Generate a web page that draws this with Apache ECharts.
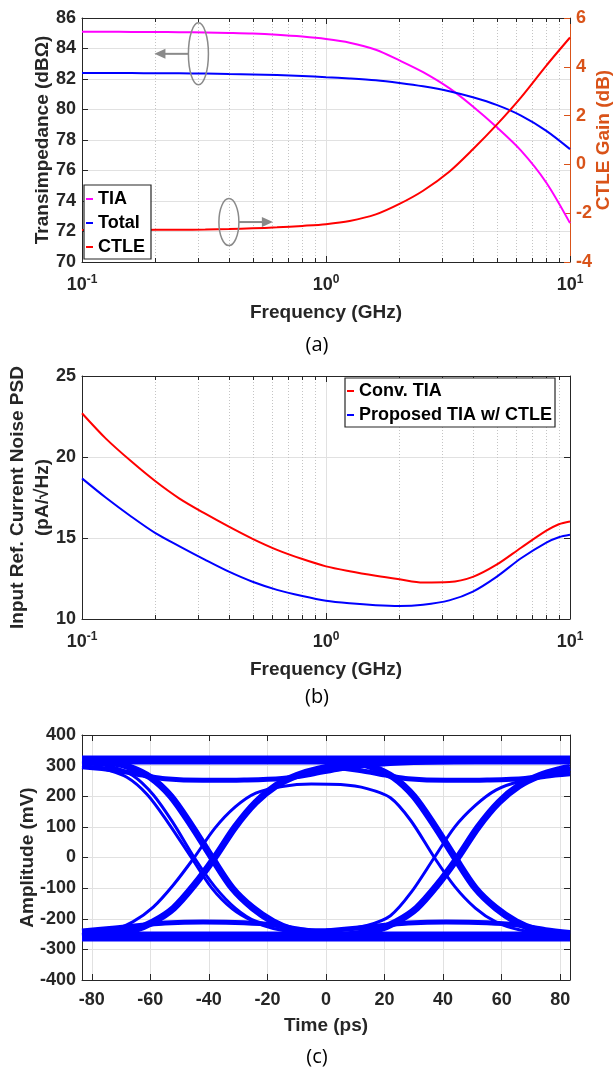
<!DOCTYPE html>
<html>
<head>
<meta charset="utf-8">
<title>TIA with CTLE: transimpedance, noise and eye diagram</title>
<script src="https://cdn.jsdelivr.net/npm/echarts@6/dist/echarts.min.js"></script>
<style>
  html, body { margin: 0; padding: 0; background: #ffffff; }
  #chart { width: 616px; height: 1068px; }
</style>
</head>
<body>
<div id="chart"></div>
<script>
// ---------- (a) Transimpedance / CTLE gain vs frequency ----------
const freqA      = [0.1, 0.125, 0.16, 0.2, 0.25, 0.32, 0.4, 0.5, 0.63, 0.8, 1, 1.25, 1.6, 2, 2.5, 3.2, 4, 5, 6.3, 8, 10];
const tiaGain    = [85.1, 85.1, 85.09, 85.08, 85.07, 85.05, 85.02, 84.98, 84.9, 84.78, 84.62, 84.38, 83.92, 83.22, 82.45, 81.4, 80.2, 78.85, 77.3, 75.2, 72.55];
const totalGain  = [82.4, 82.4, 82.39, 82.38, 82.37, 82.36, 82.33, 82.3, 82.26, 82.2, 82.12, 82.04, 81.92, 81.74, 81.52, 81.2, 80.8, 80.3, 79.6, 78.6, 77.4];
const ctleGain   = [-2.69, -2.69, -2.69, -2.68, -2.68, -2.67, -2.65, -2.62, -2.58, -2.52, -2.45, -2.32, -2.05, -1.62, -1.08, -0.3, 0.62, 1.62, 2.75, 4.05, 5.2];

// ---------- (b) Input-referred current noise PSD ----------
const freqB         = [0.1, 0.125, 0.16, 0.2, 0.25, 0.32, 0.4, 0.5, 0.63, 0.8, 1, 1.25, 1.6, 2, 2.5, 3.2, 4, 5, 6.3, 8, 9, 10];
const noiseConv     = [22.7, 21.15, 19.7, 18.5, 17.45, 16.5, 15.7, 14.95, 14.27, 13.7, 13.25, 12.95, 12.67, 12.45, 12.25, 12.28, 12.6, 13.35, 14.4, 15.45, 15.85, 16.02];
const noiseProposed = [18.68, 17.5, 16.3, 15.3, 14.5, 13.65, 12.92, 12.3, 11.8, 11.42, 11.13, 10.97, 10.85, 10.8, 10.88, 11.15, 11.69, 12.6, 13.75, 14.72, 15.05, 15.2];

// Frequency axis ticks
const decadeTicks    = [0.1, 1, 10];
const minorFreqTicks = [0.2, 0.3, 0.4, 0.5, 0.6, 0.7, 0.8, 0.9, 2, 3, 4, 5, 6, 7, 8, 9];

// ---------- (c) Eye diagram traces: [time (ps), amplitude (mV)] ----------
const timeTicks     = [-80, -60, -40, -20, 0, 20, 40, 60, 80];
const eyeHighRail   = [[-83.33, 318], [0, 318], [83.33, 318]];
const eyeLowRail    = [[-83.33, -258], [0, -258], [83.33, -258]];
const eyeHighShelfL = [[-83.33, 296], [-72, 285], [-62, 268], [-55, 257], [-42, 252], [-28, 253], [-15, 258], [-5, 272], [5, 290], [15, 302], [30, 310], [50, 314], [83.33, 316]];
const eyeHighShelfR = [[0, 296], [11, 285], [21, 268], [28, 257], [41, 252], [55, 253], [68, 258], [78, 272], [83.33, 280]];
const eyeLowShelfL  = [[-83.33, -240], [-72, -230], [-62, -220], [-55, -214], [-42, -211], [-28, -213], [-18, -220], [-8, -236], [2, -248], [15, -255], [40, -258], [83.33, -258]];
const eyeLowShelfR  = [[0, -240], [11, -230], [21, -220], [28, -214], [41, -211], [55, -213], [65, -220], [75, -236], [83.33, -245]];
const eyeFallL      = [[-83.33, 318], [-74, 312], [-67, 295], [-60, 262], [-53, 200], [-46, 105], [-39, 0], [-32, -100], [-25, -165], [-18, -210], [-11, -238], [-4, -250], [8, -258], [83.33, -258]];
const eyeRiseL      = [[-83.33, -258], [-73, -250], [-66, -238], [-59, -210], [-52, -165], [-45, -90], [-38, 0], [-31, 100], [-24, 180], [-17, 235], [-10, 268], [-3, 288], [8, 305], [25, 314], [83.33, 318]];
const eyeFallR      = [[-83.33, 318], [0, 318], [9, 312], [16, 295], [23, 262], [30, 200], [37, 105], [44, 0], [51, -100], [58, -165], [65, -210], [72, -238], [79, -250], [83.33, -254]];
const eyeRiseR      = [[-83.33, -258], [0, -258], [10, -250], [17, -238], [24, -210], [31, -165], [38, -90], [45, 0], [52, 100], [59, 180], [66, 235], [73, 268], [80, 288], [83.33, 294]];
const eyeFallEarlyL = [[-83.33, 300], [-76, 290], [-68, 262], [-61, 205], [-54, 115], [-46, 0], [-39, -100], [-32, -168], [-25, -208], [-18, -232], [-8, -248], [10, -256], [83.33, -258]];
const eyePulseHigh  = [[-83.33, -248], [-74, -240], [-66, -210], [-59, -162], [-52, -88], [-45, 0], [-38, 95], [-31, 165], [-24, 210], [-15, 232], [-5, 240], [5, 238], [14, 225], [22, 195], [29, 120], [37, 0], [44, -95], [51, -165], [58, -210], [66, -236], [75, -248], [83.33, -252]];
const eyePulseLow   = [[-83.33, 305], [-74, 298], [-66, 268], [-59, 205], [-52, 110], [-45, 0], [-38, -95], [-31, -165], [-24, -208], [-15, -228], [-5, -236], [5, -235], [14, -222], [22, -190], [29, -115], [37, 0], [44, 100], [51, 170], [58, 220], [66, 248], [75, 262], [83.33, 270]];

// ---------- styling ----------
const FONT   = '"Liberation Sans", Arial, sans-serif';
const INK    = '#262626';
const ORANGE = '#D95319';
const GRID   = '#e1e1e1';
const EYE    = '#0000ff';

const pairs = (xs, ys) => xs.map((x, i) => [x, ys[i]]);

const tickLabel = (color) => ({
  color: color || INK, fontFamily: FONT, fontWeight: 'bold', fontSize: 18, margin: 6
});
const axisName = (color) => ({
  color: color || INK, fontFamily: FONT, fontWeight: 'bold', fontSize: 19
});

function logAxis(gridIndex, position, withLabels) {
  return {
    type: 'log', logBase: 10, gridIndex, position, min: 0.1, max: 10,
    axisLine: { show: true, onZero: false, lineStyle: { color: INK, width: 1 } },
    axisTick: { show: true, inside: true, length: 6, lineStyle: { color: INK } },
    splitLine: { show: position === 'bottom', lineStyle: { color: GRID, width: 1 } },
    axisLabel: withLabels ? {
      margin: 12,
      formatter: (v) => '{b|10}{e|' + Math.round(Math.log10(v)) + '}',
      rich: {
        b: { fontFamily: FONT, fontWeight: 'bold', fontSize: 18, color: INK },
        e: { fontFamily: FONT, fontWeight: 'bold', fontSize: 12, color: INK, padding: [0, 0, 10, 0] }
      }
    } : { show: false },
    name: withLabels ? 'Frequency (GHz)' : '',
    nameLocation: 'middle', nameGap: 41, nameMoveOverlap: false, nameTextStyle: axisName()
  };
}

function valueAxis(opts) {
  const color = opts.color || INK;
  return Object.assign({
    type: 'value',
    axisLine: { show: true, onZero: false, lineStyle: { color, width: 1 } },
    axisTick: { show: true, inside: true, length: 6, lineStyle: { color } },
    splitLine: { show: false },
    axisLabel: Object.assign(tickLabel(color), { show: opts.labels !== false }),
    nameLocation: 'middle', nameRotate: 90, nameMoveOverlap: false, nameTextStyle: axisName(color)
  }, opts.extra);
}

// Dotted minor grid lines and minor ticks for the logarithmic frequency axes
function minorGridSeries(xAxisIndex, yAxisIndex, yRef) {
  return {
    type: 'custom', xAxisIndex, yAxisIndex, silent: true, z: 1,
    data: minorFreqTicks.map((v) => [v, yRef]),
    renderItem(params, api) {
      const cs = params.coordSys;
      const x = Math.round(api.coord([api.value(0), api.value(1)])[0]) + 0.5;
      const top = cs.y, bottom = cs.y + cs.height;
      return {
        type: 'group',
        children: [
          { type: 'line', shape: { x1: x, y1: top, x2: x, y2: bottom }, style: { stroke: '#c4c4c4', lineWidth: 1, lineDash: [1, 2] } },
          { type: 'line', shape: { x1: x, y1: bottom, x2: x, y2: bottom - 4 }, style: { stroke: INK, lineWidth: 1 } },
          { type: 'line', shape: { x1: x, y1: top, x2: x, y2: top + 4 }, style: { stroke: INK, lineWidth: 1 } }
        ]
      };
    }
  };
}

// Gray callouts (ellipse + arrow) tying curves to their axes in panel (a)
const callouts = [
  { at: [0.3, 83.65], dir: -1, ry: 31 },
  { at: [0.4, 72.62], dir: 1, ry: 23.5 }
];
const calloutSeries = {
  type: 'custom', xAxisIndex: 0, yAxisIndex: 0, silent: true, z: 5,
  data: callouts.map((c) => c.at),
  renderItem(params, api) {
    const c = callouts[params.dataIndex];
    const p = api.coord([api.value(0), api.value(1)]);
    const rx = 10, d = c.dir, gray = '#8a8a8a';
    const x0 = p[0] + d * rx, x1 = p[0] + d * (rx + 23), x2 = p[0] + d * (rx + 34);
    return {
      type: 'group',
      children: [
        { type: 'ellipse', shape: { cx: p[0], cy: p[1], rx, ry: c.ry }, style: { fill: 'none', stroke: gray, lineWidth: 1.5 } },
        { type: 'line', shape: { x1: x0, y1: p[1], x2: x1 + d * 2, y2: p[1] }, style: { stroke: gray, lineWidth: 2 } },
        { type: 'polygon', shape: { points: [[x1, p[1] - 5], [x2, p[1]], [x1, p[1] + 5]] }, style: { fill: gray } }
      ]
    };
  }
};

const curve = (name, data, color, xAxisIndex, yAxisIndex) => ({
  name, type: 'line', data, xAxisIndex, yAxisIndex,
  showSymbol: false, smooth: 0.3, z: 3,
  lineStyle: { color, width: 2 }, itemStyle: { color }
});

const eyeTraces = [
  { data: eyeHighRail, width: 9 },
  { data: eyeLowRail, width: 10 },
  { data: eyeHighShelfL, width: 5 },
  { data: eyeHighShelfR, width: 5 },
  { data: eyeLowShelfL, width: 5 },
  { data: eyeLowShelfR, width: 5 },
  { data: eyeFallL, width: 7 },
  { data: eyeRiseL, width: 7 },
  { data: eyeFallR, width: 7 },
  { data: eyeRiseR, width: 7 },
  { data: eyeFallEarlyL, width: 3 },
  { data: eyePulseHigh, width: 3 },
  { data: eyePulseLow, width: 3 }
];

const panelGrid = (top, height) => ({
  left: 82, top, width: 488, height, containLabel: false, outerBoundsMode: 'none'
});

const option = {
  animation: false,
  backgroundColor: '#ffffff',
  textStyle: { fontFamily: FONT },
  grid: [panelGrid(18, 244), panelGrid(376, 243), panelGrid(735, 245)],
  xAxis: [
    logAxis(0, 'bottom', true),
    logAxis(0, 'top', false),
    logAxis(1, 'bottom', true),
    logAxis(1, 'top', false),
    {
      type: 'value', gridIndex: 2, position: 'bottom', min: -83.33, max: 83.33,
      axisLine: { show: true, onZero: false, lineStyle: { color: INK } },
      axisTick: { show: true, inside: true, length: 6, customValues: timeTicks, lineStyle: { color: INK } },
      axisLabel: Object.assign(tickLabel(), { customValues: timeTicks, margin: 11 }),
      splitLine: { show: true, lineStyle: { color: GRID } },
      name: 'Time (ps)', nameLocation: 'middle', nameGap: 36, nameMoveOverlap: false, nameTextStyle: axisName()
    },
    {
      type: 'value', gridIndex: 2, position: 'top', min: -83.33, max: 83.33,
      axisLine: { show: true, onZero: false, lineStyle: { color: INK } },
      axisTick: { show: true, inside: true, length: 6, customValues: timeTicks, lineStyle: { color: INK } },
      axisLabel: { show: false }, splitLine: { show: false }
    }
  ],
  yAxis: [
    valueAxis({ extra: { gridIndex: 0, position: 'left', min: 70, max: 86, interval: 2,
      splitLine: { show: true, lineStyle: { color: GRID } },
      name: 'Transimpedance (dB\u03A9)', nameGap: 30 } }),
    valueAxis({ color: ORANGE, extra: { gridIndex: 0, position: 'right', min: -4, max: 6, interval: 2,
      name: 'CTLE Gain (dB)', nameGap: 24 } }),
    valueAxis({ extra: { gridIndex: 1, position: 'left', min: 10, max: 25, interval: 5,
      splitLine: { show: true, lineStyle: { color: GRID } },
      name: 'Input Ref. Current Noise PSD\n(pA/\u221AHz)', nameGap: 27,
      nameTextStyle: Object.assign(axisName(), { lineHeight: 24.5 }) } }),
    valueAxis({ labels: false, extra: { gridIndex: 1, position: 'right', min: 10, max: 25, interval: 5 } }),
    valueAxis({ extra: { gridIndex: 2, position: 'left', min: -400, max: 400, interval: 100,
      splitLine: { show: true, lineStyle: { color: GRID } },
      name: 'Amplitude (mV)', nameGap: 45 } }),
    valueAxis({ labels: false, extra: { gridIndex: 2, position: 'right', min: -400, max: 400, interval: 100 } })
  ],
  legend: [
    {
      data: ['TIA', 'Total', 'CTLE'], orient: 'vertical', left: 84, top: 185,
      icon: 'rect', itemWidth: 7, itemHeight: 2, itemGap: 6,
      padding: [5, 6, 3, 2], borderColor: INK, borderWidth: 1.2, backgroundColor: '#ffffff',
      textStyle: { fontFamily: FONT, fontWeight: 'bold', fontSize: 18, color: '#000' },
      selectedMode: false, z: 10
    },
    {
      data: ['Conv. TIA', 'Proposed TIA w/ CTLE'], orient: 'vertical', left: 345, top: 378,
      icon: 'rect', itemWidth: 7, itemHeight: 2, itemGap: 6,
      padding: [4, 3, 3, 2], borderColor: INK, borderWidth: 1.2, backgroundColor: '#ffffff',
      textStyle: { fontFamily: FONT, fontWeight: 'bold', fontSize: 18, color: '#000' },
      selectedMode: false, z: 10
    }
  ],
  graphic: [
    { type: 'text', x: 317, y: 345, style: { text: '(a)', fontFamily: '"Open Sans", sans-serif', fontSize: 20, fill: '#000', align: 'center', verticalAlign: 'middle' } },
    { type: 'text', x: 317, y: 697, style: { text: '(b)', fontFamily: '"Open Sans", sans-serif', fontSize: 20, fill: '#000', align: 'center', verticalAlign: 'middle' } },
    { type: 'text', x: 317, y: 1057, style: { text: '(c)', fontFamily: '"Open Sans", sans-serif', fontSize: 20, fill: '#000', align: 'center', verticalAlign: 'middle' } }
  ],
  series: [
    minorGridSeries(0, 0, 70),
    minorGridSeries(2, 2, 10),
    curve('TIA', pairs(freqA, tiaGain), '#ff00ff', 0, 0),
    curve('Total', pairs(freqA, totalGain), '#0000ff', 0, 0),
    curve('CTLE', pairs(freqA, ctleGain), '#ff0000', 0, 1),
    calloutSeries,
    curve('Conv. TIA', pairs(freqB, noiseConv), '#ff0000', 2, 2),
    curve('Proposed TIA w/ CTLE', pairs(freqB, noiseProposed), '#0000ff', 2, 2)
  ].concat(eyeTraces.map((t) => ({
    type: 'line', xAxisIndex: 4, yAxisIndex: 4, data: t.data,
    showSymbol: false, smooth: 0.3, silent: true, z: 3,
    lineStyle: { color: EYE, width: t.width, cap: 'butt', join: 'round' }
  })))
};

const chart = echarts.init(document.getElementById('chart'), null, { renderer: 'canvas' });
chart.setOption(option);
</script>
</body>
</html>
